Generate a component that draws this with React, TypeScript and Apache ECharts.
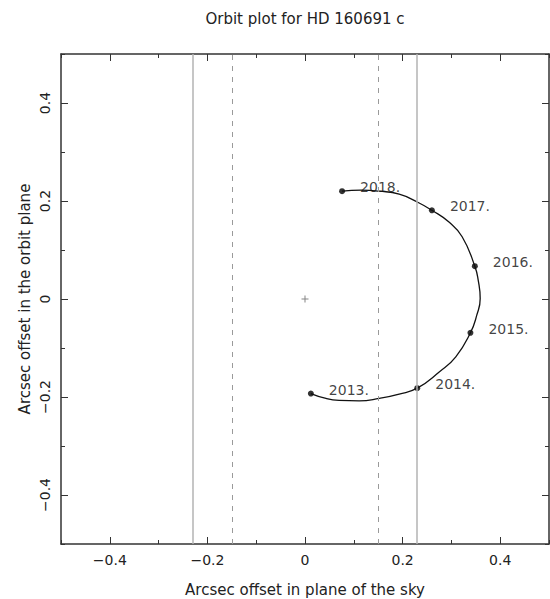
import React, { useEffect, useRef } from "react";
import * as echarts from "echarts";

const titleText = "Orbit plot for HD 160691 c";
const xAxisName = "Arcsec offset in plane of the sky";
const yAxisName = "Arcsec offset in the orbit plane";

const majorTicks = [-0.4, -0.2, 0, 0.2, 0.4];

const yearLabels = ["2013.", "2014.", "2015.", "2016.", "2017.", "2018."];
const epochX = [0.012, 0.23, 0.339, 0.348, 0.26, 0.076];
const epochY = [-0.193, -0.182, -0.069, 0.067, 0.181, 0.22];

const orbitX = [
  0.012, 0.043, 0.07, 0.111, 0.152, 0.193, 0.23, 0.275, 0.309, 0.339, 0.352,
  0.359, 0.355, 0.348, 0.322, 0.295, 0.26, 0.23, 0.193, 0.152, 0.115, 0.076,
];
const orbitY = [
  -0.193, -0.203, -0.207, -0.208, -0.203, -0.194, -0.182, -0.149, -0.118,
  -0.069, -0.033, 0.001, 0.038, 0.067, 0.127, 0.157, 0.181, 0.198, 0.214,
  0.22, 0.222, 0.22,
];

const solidLinesX = [-0.23, 0.23];
const dashedLinesX = [-0.15, 0.15];
const starPos = [0, 0];

const FONT = "DejaVu Sans";
const FRAME = "#333";

const fmt = (v: number) =>
  Math.abs(v) < 1e-9 ? "0" : v.toFixed(1).replace("-", "\u2212");

function axisPair(kind: "x" | "y", position: string, withLabels: boolean) {
  const base = {
    type: "value",
    min: -0.5,
    max: 0.5,
    position,
    splitLine: { show: false },
  };
  const minor = {
    ...base,
    interval: 0.1,
    axisLine: { show: true, onZero: false, lineStyle: { color: FRAME, width: 1.5 } },
    axisTick: { show: true, inside: true, length: 4, lineStyle: { color: FRAME, width: 1 } },
    axisLabel: { show: false },
  };
  const major = {
    ...base,
    axisLine: { show: false, onZero: false },
    axisTick: {
      show: true,
      inside: true,
      length: 7,
      customValues: majorTicks,
      lineStyle: { color: FRAME, width: 1 },
    },
    axisLabel: withLabels
      ? {
          show: true,
          customValues: majorTicks,
          formatter: fmt,
          fontSize: 14,
          fontFamily: FONT,
          color: "#222",
          margin: 9,
          rotate: kind === "y" ? 90 : 0,
        }
      : { show: false },
  };
  return [minor, major];
}

export default function App() {
  const ref = useRef<HTMLDivElement>(null);

  useEffect(() => {
    if (!ref.current) return;
    const chart = echarts.init(ref.current, null, { renderer: "svg" });

    const orbitData = orbitX.map((x, i) => [x, orbitY[i]]);
    const epochData = epochX.map((x, i) => ({
      value: [x, epochY[i]],
      name: yearLabels[i],
    }));

    chart.setOption({
      animation: false,
      backgroundColor: "#fff",
      grid: { left: 61, right: 1, top: 54, bottom: 55 },
      xAxis: [...axisPair("x", "bottom", true), ...axisPair("x", "top", false)],
      yAxis: [...axisPair("y", "left", true), ...axisPair("y", "right", false)],
      graphic: [
        {
          type: "text",
          x: 305,
          y: 19,
          style: {
            text: titleText,
            fontSize: 15,
            fontFamily: FONT,
            fill: "#222",
            align: "center",
            verticalAlign: "middle",
          },
        },
        {
          type: "text",
          x: 305,
          y: 590,
          style: {
            text: xAxisName,
            fontSize: 15,
            fontFamily: FONT,
            fill: "#222",
            align: "center",
            verticalAlign: "middle",
          },
        },
        {
          type: "text",
          x: 25,
          y: 299,
          rotation: Math.PI / 2,
          style: {
            text: yAxisName,
            fontSize: 15,
            fontFamily: FONT,
            fill: "#222",
            align: "center",
            verticalAlign: "middle",
          },
        },
      ],
      series: [
        {
          type: "line",
          xAxisIndex: 0,
          yAxisIndex: 0,
          data: [],
          silent: true,
          markLine: {
            silent: true,
            symbol: "none",
            label: { show: false },
            data: [
              ...solidLinesX.map((v) => ({
                xAxis: v,
                lineStyle: { color: "#b3b3b3", width: 1.5, type: "solid" },
              })),
              ...dashedLinesX.map((v) => ({
                xAxis: v,
                lineStyle: { color: "#9a9a9a", width: 1, type: [5, 6] },
              })),
            ],
          },
        },
        {
          type: "line",
          xAxisIndex: 0,
          yAxisIndex: 0,
          data: orbitData,
          smooth: 0.5,
          showSymbol: false,
          symbol: "none",
          lineStyle: { color: "#111", width: 1.3 },
          silent: true,
        },
        {
          type: "scatter",
          xAxisIndex: 0,
          yAxisIndex: 0,
          data: epochData,
          symbol: "circle",
          symbolSize: 6,
          itemStyle: { color: "#000" },
          label: {
            show: true,
            position: "right",
            distance: 15,
            offset: [0, -4],
            formatter: "{b}",
            fontSize: 14,
            fontFamily: FONT,
            color: "#111",
          },
          silent: true,
        },
        {
          type: "scatter",
          xAxisIndex: 0,
          yAxisIndex: 0,
          data: [starPos],
          symbol: "path://M3,0h1v3h3v1h-3v3h-1v-3h-3v-1h3z",
          symbolSize: 7,
          itemStyle: { color: "#666" },
          silent: true,
        },
      ],
    });

    return () => chart.dispose();
  }, []);

  return (
    <div
      ref={ref}
      style={{ position: "fixed", left: 0, top: 0, width: 550, height: 599 }}
    />
  );
}
